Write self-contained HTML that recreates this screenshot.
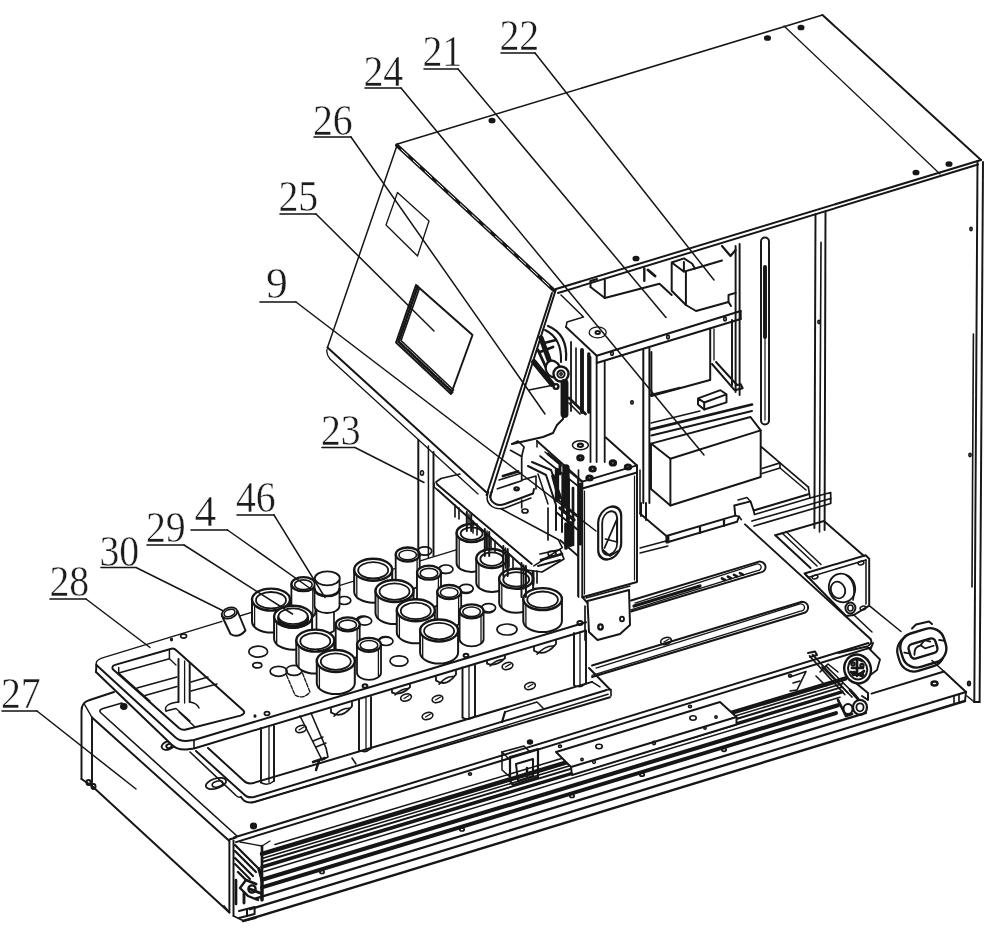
<!DOCTYPE html>
<html lang="en"><head><meta charset="utf-8"><title>Figure</title>
<style>html,body{margin:0;padding:0;background:#fff}body{width:1000px;height:937px;overflow:hidden}svg{display:block}</style></head>
<body>
<svg width="1000" height="937" viewBox="0 0 1000 937">
<defs><filter id="soft" x="0" y="0" width="1000" height="937" filterUnits="userSpaceOnUse"><feGaussianBlur stdDeviation="0.45"/></filter></defs>
<g filter="url(#soft)">
<g fill="none" stroke="#141414" stroke-width="1.95" stroke-linecap="round" stroke-linejoin="round">
<path d="M397.5 144L822.5 15" stroke-width="1.5"/>
<path d="M822.5 15L981 160"/>
<path d="M556 289L981 160"/>
<path d="M558 293L978 164.5"/>
<path d="M784 26L940 174" stroke-width="1.3"/>
<ellipse cx="767.5" cy="38" rx="2.2" ry="1.5" stroke-width="2.7" fill="#1c1c1c"/>
<ellipse cx="801" cy="27.5" rx="2.2" ry="1.5" stroke-width="2.7" fill="#1c1c1c"/>
<ellipse cx="949" cy="164" rx="2.2" ry="1.5" stroke-width="2.7" fill="#1c1c1c"/>
<ellipse cx="916" cy="172.5" rx="2.2" ry="1.5" stroke-width="2.7" fill="#1c1c1c"/>
<ellipse cx="492" cy="120.5" rx="2.2" ry="1.5" stroke-width="2.7" fill="#1c1c1c"/>
<ellipse cx="636" cy="258.5" rx="2.2" ry="1.5" stroke-width="2.7" fill="#1c1c1c"/>
<path d="M396.9 145.3L554.2 290.6" stroke-width="3.7"/>
<path d="M401.5 149.6L554.2 290.6" stroke="#fff" stroke-width="1" stroke-dasharray="9 7"/>
<path d="M397.5 144L327.5 347.5" stroke-width="1.5"/>
<path d="M556 289L490 497"/>
<path d="M552 293L486.5 495"/>
<path d="M327.5 347.5L486 492"/>
<path d="M327 349.5Q326 354 330 359L478 494" stroke-width="1.3"/>
<path d="M397.5 192.5L386 225L417.5 256L429 221Z" stroke-width="1.3"/>
<path d="M416 285L472.5 335L451 394L396 342.5Z"/>
<path d="M419.5 288L401 340.5L453.5 390" stroke-width="1.7"/>
<path d="M417.7 286.5L398.5 341.5L452.2 392" stroke-width="2.7" stroke-dasharray="1.8 1.4"/>
<path d="M977.5 161L974.3 702"/>
<path d="M983 162L979.6 702"/>
<path d="M973.4 334L972 587" stroke-width="1.6"/>
<path d="M974.3 702L979.6 702"/>
<path d="M967 696L974.3 702" stroke-width="1.6"/>
<path d="M815.5 214.1L814.4 528"/>
<path d="M821 242.4L819.5 532" stroke-width="1.6"/>
<path d="M825.5 211.1L824.6 530"/>
<rect x="761" y="237.5" width="8" height="187" rx="4" ry="4"/>
<path d="M765 267L765 337" stroke-width="3.9"/>
<path d="M765 337L765 420" stroke-width="1.2"/>
<ellipse cx="971" cy="229" rx="1.1" ry="1.6" stroke-width="1.6"/>
<ellipse cx="970" cy="455" rx="1.1" ry="1.6" stroke-width="1.6"/>
<ellipse cx="819" cy="322" rx="1.1" ry="1.6" stroke-width="1.6"/>
<path d="M566 327L596.7 355.8L740.7 311"/>
<path d="M596.7 355.8L596.7 363L740.7 319"/>
<path d="M740.7 311L740.7 319"/>
<path d="M566 327L567 322L583.5 317L561 295" stroke-width="1.5"/>
<ellipse cx="597.7" cy="332.4" rx="8.5" ry="5.5" stroke-width="1.3"/>
<ellipse cx="597.7" cy="332.4" rx="2.2" ry="1.5" stroke-width="2"/>
<ellipse cx="612" cy="353.5" rx="1.3" ry="1.8" stroke-width="1.7"/>
<ellipse cx="668" cy="337" rx="1.3" ry="1.8" stroke-width="1.7"/>
<ellipse cx="725" cy="319" rx="1.3" ry="1.8" stroke-width="1.7"/>
<path d="M590.5 287L604.8 298L659.5 283.7L671.7 295"/>
<path d="M604.8 279.7L604.8 298"/>
<path d="M590.5 281L590.5 287"/>
<path d="M590.5 281L597 279"/>
<path d="M644.3 268.5L644.3 280.7" stroke-width="2.4"/>
<path d="M648 270L655 276" stroke-width="2.9"/>
<path d="M671.7 262.5L683.9 258.4L692 263.5L695 268.5L683.9 271.6L671.7 262.5"/>
<path d="M683.9 271.6L683.9 262"/>
<path d="M671.7 263.5L671.7 290.8L685.9 305L696 311L728.5 302L728.5 295L735.6 292.9"/>
<path d="M685.9 271.6L685.9 305"/>
<path d="M695 268.5L722 260.5"/>
<path d="M722 246L730.5 256L735.6 250" stroke-width="2.2"/>
<path d="M728.5 302L731 306" stroke-width="2"/>
<path d="M735.6 246L735.6 392"/>
<path d="M739.6 244L739.6 395"/>
<path d="M732 320L732 385"/>
<path d="M643.3 349.7L643.3 503"/>
<path d="M649.4 348L649.4 503"/>
<path d="M651.4 352L651.4 396"/>
<path d="M710.2 329L710.2 380"/>
<path d="M651.4 396L710 380"/>
<path d="M714 329L714 360" stroke-width="1.3"/>
<path d="M712 364L734.6 390.2L742.7 388.2L740.7 384.1L737 385"/>
<path d="M716 362L737 385"/>
<path d="M698 398.4L720.4 390.2L726.5 394.3L726.5 402.4L704.2 409.5L698 404.4L698 398.4L704.2 402.5L726.5 394.3"/>
<path d="M704.2 402.5L704.2 409.5"/>
<path d="M571 342L571 411" stroke-width="1.8"/>
<path d="M582 350L582 412" stroke-width="3.9"/>
<path d="M588.8 354L588.8 412" stroke-width="3.4"/>
<path d="M590.5 357L590.5 462" stroke-width="1.8"/>
<path d="M596.6 363L596.6 462" stroke-width="1.8"/>
<path d="M604.7 361L604.7 462" stroke-width="1.8"/>
<path d="M576 348L576 404" stroke-width="1.6"/>
<path d="M569 398L585.5 414" stroke-width="2.7"/>
<path d="M569 403L580 414" stroke-width="1.7"/>
<ellipse cx="632" cy="402.4" rx="1.2" ry="1.6" stroke-width="1.7"/>
<path d="M548 326Q568 334 566 360" stroke-width="2.2"/>
<path d="M545 330Q562 338 561 362" stroke-width="2"/>
<path d="M541 338L552 368" stroke-width="5.1"/>
<path d="M534 362L552 384" stroke-width="5.5"/>
<path d="M538 350L548 372" stroke-width="2.9"/>
<path d="M544 343L556 340" stroke-width="2.4"/>
<path d="M540 352L553 347" stroke-width="2.7"/>
<ellipse cx="553" cy="369" rx="7" ry="8.5" stroke-width="2.2" fill="#fff" transform="rotate(-25 553 369)"/>
<ellipse cx="561" cy="374" rx="7.5" ry="7.5" stroke-width="2.4" fill="#fff"/>
<ellipse cx="561" cy="374" rx="3.6" ry="3.6" stroke-width="2"/>
<ellipse cx="561" cy="374" rx="1.2" ry="1.2" stroke-width="1.5"/>
<path d="M564.5 383L564.5 414" stroke-width="7.9"/>
<ellipse cx="556" cy="386.5" rx="2.4" ry="2.4" stroke-width="2.4"/>
<path d="M529 390L554 385" stroke-width="1.5"/>
<path d="M563 389L563 419L557 425L553 433L543 437L512 444"/>
<path d="M650.4 395L680 387.8"/>
<path d="M650.4 429.4L752 404.5" stroke-width="2.7"/>
<path d="M651.4 435.5L752 411"/>
<path d="M651 423L700 411" stroke-width="1.3"/>
<path d="M651 443.6L670.4 458.8L760.7 430.4L750.5 417L651 443.6"/>
<path d="M651 443.6L651 489L670.4 505.5L760.7 477L760.7 430.4"/>
<path d="M670.4 458.8L670.4 505.5"/>
<path d="M640 513.6L666.4 536L735.3 515.6L734.3 505.5L750.5 501.4L753.6 510.5L808.4 494.3"/>
<path d="M666.4 536L666.4 542.5L737 521.8L739 516.5"/>
<path d="M735.3 515.6L739 516.5L741.4 519.7" stroke-width="1.6"/>
<path d="M753.6 510.5L754.5 514.5L810 498L808.4 487.2" stroke-width="1.7"/>
<path d="M738 500L747 497.5L750.5 501.4" stroke-width="1.5"/>
<path d="M700 527.5L700 533" stroke-width="2.2"/>
<path d="M724 520.3L724 525.8" stroke-width="2.2"/>
<path d="M668 537L668 542" stroke-width="2.9"/>
<path d="M761.5 447L780 462.9L762 468.5" stroke-width="1.7"/>
<path d="M780 462.9L808.4 487.2" stroke-width="1.7"/>
<path d="M780 462.9L780 468L762 473.5" stroke-width="1.6"/>
<path d="M780 468L806 490" stroke-width="1.5"/>
<path d="M752 521L830.7 498.5L830.7 503.5L754 526" stroke-width="1.8"/>
<path d="M810 498L830.7 492.5L830.7 498.5" stroke-width="1.7"/>
<path d="M640 513.6L640 470" stroke-width="1.5"/>
<path d="M641 503L641 516"/>
<path d="M646 503L646 520"/>
<path d="M640 548L666 541" stroke-width="1.3"/>
<path d="M640 553L668 546" stroke-width="1.3"/>
<path d="M582.3 481.6L637 465.4L637 582L582.3 597.2Z"/>
<path d="M582.3 488.5L637 472.5"/>
<path d="M537 441L582.3 481.6"/>
<path d="M605.8 437.5L637 465.4"/>
<path d="M537 441L537 447" stroke-width="1.5"/>
<path d="M578 478L578 596" stroke-width="1.5"/>
<path d="M584.5 491L584.5 594" stroke-width="1.2"/>
<path d="M634.5 476L634.5 580" stroke-width="1.2"/>
<rect x="598.2" y="507" width="23" height="52" rx="11.5" ry="12.5" transform="skewY(-16.5) translate(0,180.6)" stroke-width="2.2"/>
<rect x="602.2" y="511.5" width="15" height="43" rx="7.5" ry="9" transform="skewY(-16.5) translate(0,180.6)" stroke-width="1.8"/>
<path d="M604.5 548L617 519L617 542L605.5 539" stroke-width="1.8"/>
<path d="M603 550L610 556L618 551" stroke-width="1.7"/>
<ellipse cx="580.4" cy="445.2" rx="8" ry="4.5" stroke-width="1.5"/>
<ellipse cx="580.4" cy="445.2" rx="2.5" ry="1.6" stroke-width="2.2"/>
<ellipse cx="580.4" cy="457.8" rx="2.6" ry="2" stroke-width="3.2"/>
<ellipse cx="592.6" cy="469" rx="2.6" ry="2" stroke-width="3.2"/>
<ellipse cx="612.9" cy="462.9" rx="2.6" ry="2" stroke-width="3.2"/>
<ellipse cx="628" cy="467" rx="2.6" ry="2" stroke-width="3.2"/>
<ellipse cx="589.5" cy="478" rx="2.6" ry="2" stroke-width="3.2"/>
<path d="M587.5 601L629 590L630 625L620 634L597.5 640L589 632L587.5 601" fill="#fff"/>
<path d="M582.3 597.2L587.5 603"/>
<path d="M586 598L630 586" stroke-width="1.3"/>
<ellipse cx="600.5" cy="627" rx="2.2" ry="2.6" stroke-width="2.4"/>
<ellipse cx="622" cy="619" rx="2" ry="2.4" stroke-width="1.8"/>
<path d="M870.5 639L745 524.4"/>
<path d="M870.5 639Q873 643 868.5 645.5"/>
<path d="M873 643L870.5 649"/>
<path d="M631 600.5L759 561.6A6.1 5.5 0 0 1 760 572.6L631 611.5"/>
<path d="M635 603.1L757 563.8A3.8 3.3 0 0 1 757.5 570.6L631 609.9" stroke-width="1.3"/>
<path d="M592 665.5L802 601.7A6.3 5.8 0 0 1 803 613.2L592 677"/>
<path d="M596 668.1L800 603.9A4 3.4 0 0 1 800.5 611.2L592 675.4" stroke-width="1.3"/>
<path d="M634 606L700 586" stroke-width="3.2"/>
<path d="M722 578.5L725 580" stroke-width="2.7"/>
<path d="M728 576.7L731 578.2" stroke-width="2.7"/>
<path d="M734 574.9L737 576.4" stroke-width="2.7"/>
<path d="M740 573.1L743 574.6" stroke-width="2.7"/>
<path d="M775.3 535.2L810.5 568"/>
<path d="M782 533L817 566" stroke-width="1.5"/>
<path d="M786 531.5L821 564.5" stroke-width="1.5"/>
<path d="M775.3 535.2L824 521L864 556"/>
<path d="M804.6 573.5L865.6 555.2L869.2 558.7L869.2 605.6L853.9 615L846 616L804.6 573.5"/>
<path d="M804.6 573.5L808 577.5L866 560" stroke-width="1.5"/>
<path d="M866 560L866 604" stroke-width="1.5"/>
<ellipse cx="842" cy="588" rx="13" ry="14.5" stroke-width="1.8" transform="rotate(-20 842 588)"/>
<ellipse cx="838" cy="590" rx="7" ry="8.5" stroke-width="1.8" transform="rotate(-20 838 590)"/>
<path d="M846 575Q857 582 853 600" stroke-width="1.6"/>
<ellipse cx="850.4" cy="608" rx="5" ry="5.5"/>
<ellipse cx="850.4" cy="608" rx="2.6" ry="3" stroke-width="1.6"/>
<ellipse cx="815" cy="577" rx="3" ry="1.8" stroke-width="1.5" transform="rotate(-17 815 577)"/>
<ellipse cx="861" cy="563" rx="3" ry="1.8" stroke-width="1.5" transform="rotate(-17 861 563)"/>
<ellipse cx="863" cy="608" rx="3" ry="1.8" stroke-width="1.5" transform="rotate(-17 863 608)"/>
<path d="M869.2 605.6L901 631.5" stroke-width="1.5"/>
<path d="M853.9 615L872 632" stroke-width="1.5"/>
<g transform="rotate(-17 923 648.5)"><rect x="897" y="632.5" width="46" height="36" rx="15" ry="15" stroke-width="2.2" fill="#fff"/><rect x="901" y="630.5" width="45" height="35" rx="14.5" ry="14.5" stroke-width="2.4" fill="#fff"/><rect x="909" y="641" width="28" height="15" rx="4.5" ry="4.5" stroke-width="2.4"/><path d="M913 652q2-8 9-7l3 4h9M921 645l6-4 5 3" stroke-width="1.8"/><path d="M904 647l4 2M941 645l4 2" stroke-width="2"/></g>
<path d="M912 628.5L916 624.5L929 621.5L932 624" stroke-width="2"/>
<path d="M838.5 653L867 646.5L880 659.5L877 670L869 676" stroke-width="1.8"/>
<ellipse cx="857.6" cy="669" rx="13.2" ry="14.6" stroke-width="2.4" fill="#fff" transform="rotate(-20 857.6 669)"/>
<ellipse cx="857.6" cy="669" rx="9.5" ry="10.5" stroke-width="2" transform="rotate(-20 857.6 669)"/>
<path d="M850 662q6-6 12-1M851 672q7 6 13-1M857 661v15M852 668h11" stroke-width="2.7"/>
<ellipse cx="853" cy="664" rx="1.6" ry="1.6" stroke-width="2.2"/>
<ellipse cx="862" cy="665.5" rx="1.6" ry="1.6" stroke-width="2.2"/>
<ellipse cx="854" cy="673.5" rx="1.6" ry="1.6" stroke-width="2.2"/>
<ellipse cx="861.5" cy="674.5" rx="1.6" ry="1.6" stroke-width="2.2"/>
<path d="M809.6 656L844.8 694.5" stroke-width="1.8"/>
<path d="M812.6 654.6L848 693" stroke-width="1.8"/>
<path d="M822 667L852 697" stroke-width="1.7"/>
<path d="M826 666L856 695.5" stroke-width="1.7"/>
<path d="M808 653L815 651.5L817 655L810 657" stroke-width="2"/>
<ellipse cx="860" cy="707.3" rx="7" ry="7.5" stroke-width="2.2" fill="#fff"/>
<ellipse cx="860" cy="707.3" rx="3.6" ry="4" stroke-width="1.8"/>
<ellipse cx="848" cy="709" rx="4.5" ry="5" stroke-width="2"/>
<path d="M857 684L868 693L868 700L862 696" stroke-width="2"/>
<path d="M850 690L858 699" stroke-width="2.9"/>
<path d="M838 700L846 716L852 714" stroke-width="2.7"/>
<path d="M820 672L828 664L838 672" stroke-width="1.6"/>
<path d="M816 676L826 686" stroke-width="1.6"/>
<path d="M871.5 693.6L944 671.5L966 692L965 701"/>
<path d="M944 671.5L932 660.5" stroke-width="1.6"/>
<path d="M954 696L954 704.5" stroke-width="1.6"/>
<path d="M959 694.5L959 703" stroke-width="1.6"/>
<ellipse cx="934.5" cy="683.5" rx="3" ry="2" stroke-width="2.4"/>
<ellipse cx="969" cy="683.5" rx="1.2" ry="2" stroke-width="2"/>
<path d="M229.4 841.5L229.4 912.5"/>
<path d="M233.5 840.5L233.5 916"/>
<path d="M234 837.5L868.5 643"/>
<path d="M236 842.1L870.5 647.6"/>
<path d="M262 853.9L845 678.7" stroke-width="4.4"/>
<path d="M262 858.4L843 683.5" stroke-width="1.6"/>
<path d="M262 862L842 687.1" stroke-width="2"/>
<path d="M262 867L842 691.9" stroke-width="3.4"/>
<path d="M264 871.5L840 697.2" stroke-width="1.5"/>
<path d="M262 879.8L838 705.3" stroke-width="4.1"/>
<path d="M262 887.4L836 713.1" stroke-width="3.9"/>
<path d="M256 898.3L866 712.9" stroke-width="2.3"/>
<path d="M250 909.2L966 692" stroke-width="2.3"/>
<path d="M243 921L965 701" stroke-width="2.4"/>
<path d="M275 844.5L700 717" stroke-width="1.5"/>
<path d="M235 845L259 869" stroke-width="2.2"/>
<path d="M235 851L256 872" stroke-width="2.2"/>
<path d="M235 858L253 876" stroke-width="2.2"/>
<path d="M235 864L250 879" stroke-width="2"/>
<path d="M240 842L262 846L270 841" stroke-width="1.3"/>
<path d="M259 869L262 880L262 900" stroke-width="3.2"/>
<path d="M238 872L246 880L240 888L248 896L258 900" stroke-width="2.4"/>
<path d="M246 880L256 884" stroke-width="2.9"/>
<path d="M250 889L260 893" stroke-width="2.9"/>
<path d="M244 893L244 903" stroke-width="2.9"/>
<path d="M236 880L236 904" stroke-width="2.7"/>
<ellipse cx="252" cy="889" rx="3.6" ry="3.6" stroke-width="2.4"/>
<path d="M233.5 916L244 921L256 918" stroke-width="1.7"/>
<path d="M239 911L254.6 907L254.6 914L239 918" stroke-width="2"/>
<path d="M247 909L247 916" stroke-width="2"/>
<path d="M262 846L262 900" stroke-width="2.7"/>
<path d="M224 906L229 912" stroke-width="1.7"/>
<ellipse cx="322" cy="872" rx="2.2" ry="1.5" stroke-width="1.7"/>
<ellipse cx="462" cy="829.5" rx="2.2" ry="1.5" stroke-width="1.7"/>
<ellipse cx="572" cy="796" rx="2.2" ry="1.5" stroke-width="1.7"/>
<ellipse cx="642" cy="774.7" rx="2.2" ry="1.5" stroke-width="1.7"/>
<ellipse cx="724" cy="749.8" rx="2.2" ry="1.5" stroke-width="1.7"/>
<ellipse cx="470" cy="773.9" rx="1.5" ry="1.2" stroke-width="1.6"/>
<ellipse cx="560" cy="746.3" rx="1.5" ry="1.2" stroke-width="1.6"/>
<ellipse cx="690" cy="706.4" rx="1.5" ry="1.2" stroke-width="1.6"/>
<ellipse cx="790" cy="675.8" rx="1.5" ry="1.2" stroke-width="1.6"/>
<ellipse cx="253.5" cy="826" rx="2.4" ry="2.2" stroke-width="2.4" fill="#1c1c1c"/>
<path d="M556 752L720 702L736.5 717L736.5 724.5L572 775L571 767L556 752" fill="#fff"/>
<path d="M571 767L736.5 717"/>
<ellipse cx="693" cy="718" rx="3.2" ry="2.2" stroke-width="1.6"/>
<ellipse cx="716" cy="717" rx="1.2" ry="1.2" stroke-width="1.5"/>
<ellipse cx="705" cy="728" rx="1.2" ry="1.2" stroke-width="1.5"/>
<ellipse cx="599" cy="746.5" rx="3.2" ry="2.2" stroke-width="1.6"/>
<ellipse cx="582" cy="759.5" rx="1.2" ry="1.2" stroke-width="1.5"/>
<ellipse cx="594" cy="762" rx="1.4" ry="1.4" stroke-width="1.5"/>
<ellipse cx="654" cy="743" rx="1.4" ry="1.6" stroke-width="1.7"/>
<path d="M502 752L524 746L530 752" stroke-width="1.5"/>
<path d="M510 757L538 749L538 777L513 785L510 781L510 757" stroke-width="2.2"/>
<path d="M516 764L533 759L533 776L518 781L516 764" stroke-width="2"/>
<path d="M527 768L527 776" stroke-width="2.4"/>
<path d="M502 752L510 760" stroke-width="1.5"/>
<path d="M502 752L502 770L510 777" stroke-width="1.5"/>
<ellipse cx="530" cy="742" rx="2" ry="1.6" stroke-width="2.4" fill="#1c1c1c"/>
<path d="M81.5 779V711Q81.5 702.5 89 700.3L114 692"/>
<path d="M92 786V717.5"/>
<path d="M84 703.5L92 717.5" stroke-width="1.5"/>
<path d="M81.5 779L92 786"/>
<path d="M92 786L229.4 912.5"/>
<path d="M92 717.5L229.4 841"/>
<path d="M122 703L103 708.5Q98 710 101 713L237 836" stroke-width="1.6"/>
<ellipse cx="123.8" cy="706.5" rx="2.6" ry="2.2" stroke-width="2.4" fill="#1c1c1c"/>
<ellipse cx="88.5" cy="782.5" rx="2" ry="2.4" stroke-width="2"/>
<ellipse cx="93.5" cy="786.5" rx="2" ry="2.4" stroke-width="2"/>
<path d="M229.4 839.5L236 837.5"/>
<path d="M196 751L243 793.5Q247.5 798.5 254 797L606 690.2"/>
<path d="M252 802.8L608 694.3" stroke-width="1.5"/>
<path d="M241 797Q245 804 254 802L610 697.2"/>
<path d="M606 690L611 689.5L611 696" stroke-width="1.6"/>
<path d="M208 748L243.5 780.5Q247.5 784.5 253.5 783L592 681.9"/>
<path d="M190 752L236 795.5Q239 798 241 797" stroke-width="1.6"/>
<path d="M592 681.9L600 686.9" stroke-width="1.5"/>
<path d="M610 689.5L589 668"/>
<ellipse cx="216" cy="783.5" rx="10.5" ry="5" stroke-width="1.7" transform="rotate(-17 216 783.5)"/>
<ellipse cx="217.5" cy="784" rx="5.5" ry="2.8" stroke-width="1.6" transform="rotate(-17 217.5 784)"/>
<ellipse cx="168" cy="745.5" rx="6.5" ry="4" stroke-width="1.8" transform="rotate(-17 168 745.5)"/>
<ellipse cx="169" cy="746" rx="2.8" ry="2" stroke-width="2" transform="rotate(-17 169 746)"/>
<path d="M319 761L316 770" stroke-width="2.4"/>
<path d="M313 762L325 758" stroke-width="2.4"/>
<path d="M505 712L502 722" stroke-width="2.2"/>
<path d="M505 712L537 702L543 708" stroke-width="1.5"/>
<path d="M352 758L356 764" stroke-width="1.5"/>
<ellipse cx="406" cy="697.5" rx="5.5" ry="3.4" stroke-width="1.6" transform="rotate(-17 406 697.5)"/>
<path d="M404 698.5L409 695.5" stroke-width="1.2"/>
<ellipse cx="427.5" cy="716" rx="5.5" ry="3.4" stroke-width="1.6" transform="rotate(-17 427.5 716)"/>
<path d="M425.5 717L430.5 714" stroke-width="1.2"/>
<ellipse cx="301" cy="729" rx="5.5" ry="3.4" stroke-width="1.6" transform="rotate(-17 301 729)"/>
<path d="M299 730L304 727" stroke-width="1.2"/>
<ellipse cx="507.5" cy="666" rx="5.5" ry="3.4" stroke-width="1.6" transform="rotate(-17 507.5 666)"/>
<path d="M505.5 667L510.5 664" stroke-width="1.2"/>
<ellipse cx="530" cy="686" rx="5.5" ry="3.4" stroke-width="1.6" transform="rotate(-17 530 686)"/>
<path d="M528 687L533 684" stroke-width="1.2"/>
<ellipse cx="437.5" cy="699" rx="5.5" ry="3.4" stroke-width="1.6" transform="rotate(-17 437.5 699)"/>
<path d="M435.5 700L440.5 697" stroke-width="1.2"/>
<ellipse cx="666" cy="641" rx="5.5" ry="3.4" stroke-width="1.6" transform="rotate(-17 666 641)"/>
<path d="M664 642L669 639" stroke-width="1.2"/>
<path d="M96.4 665L493 544L586 622.3L586 630.5L194 748.5L186 749.5Q177 750 172 745L96 672Z" fill="#fff" stroke="none"/>
<path d="M96.4 665L175 737Q179 741 186 741L194 740L586 622.3"/>
<path d="M96 672L172 745Q177 750 186 749.5L194 748.5L586 630.5"/>
<path d="M194 740L194 748.5" stroke-width="1.6"/>
<path d="M96.4 665L96 672"/>
<path d="M96.4 665Q95 660 102.5 657.8L222 621.3" stroke-width="1.3"/>
<path d="M236 617.1L475 544.2" stroke-width="1.3"/>
<path d="M112.6 669Q111.5 665.5 116 664.6L171.4 648.7Q174 648 176.5 650.5L243.4 710.5Q246 713.5 240.4 715.6L186 729.5Q182 730.5 179 728Z"/>
<path d="M118.7 667.5L118.7 673L169.4 658.8L169.4 650.5" stroke-width="1.5"/>
<path d="M118.7 673L150 701" stroke-width="1.3"/>
<path d="M169.4 658.8L176 665" stroke-width="1.3"/>
<path d="M179 712L195 727" stroke-width="1.5"/>
<path d="M166 711L176 708.5L190 721" stroke-width="1.3"/>
<path d="M137 688L177 677" stroke-width="1.5"/>
<path d="M145 695.5L177 686.5" stroke-width="1.5"/>
<path d="M191 682L208 677" stroke-width="1.5"/>
<path d="M191 691L217 684" stroke-width="1.5"/>
<path d="M178.5 659L178.5 702"/>
<path d="M184.6 661L184.6 703" stroke-width="1.3"/>
<path d="M189.7 663L189.7 702"/>
<path d="M166 711Q163 704 178.5 702M189.7 702Q197 703 199 708" stroke-width="1.5"/>
<ellipse cx="183.6" cy="636.1" rx="3" ry="2" stroke-width="1.6"/>
<ellipse cx="171.5" cy="639.5" rx="0.8" ry="1.2" stroke-width="1.5"/>
<ellipse cx="267" cy="713.5" rx="2.6" ry="1.8" stroke-width="1.7"/>
<ellipse cx="255" cy="716" rx="0.8" ry="1.1" stroke-width="1.5"/>
<ellipse cx="365" cy="686" rx="2.4" ry="1.8" stroke-width="2"/>
<ellipse cx="466" cy="655.5" rx="2.4" ry="1.8" stroke-width="2"/>
<ellipse cx="580" cy="623" rx="2.6" ry="2" stroke-width="2"/>
<path d="M261 728L261 782.5"/>
<path d="M269 727L269 782.5" stroke-width="1.3"/>
<path d="M274 726L274 781"/>
<path d="M261 782.5Q267.5 786.5 274 781" stroke-width="1.5"/>
<path d="M359 699L359 750"/>
<path d="M366 698L366 750" stroke-width="1.3"/>
<path d="M371 697L371 748.5"/>
<path d="M359 750Q365 754 371 748.5" stroke-width="1.5"/>
<path d="M462.5 667.5L462.5 717.5"/>
<path d="M469 666.5L469 717.5" stroke-width="1.3"/>
<path d="M475 665.5L475 716"/>
<path d="M462.5 717.5Q468.8 721.5 475 716" stroke-width="1.5"/>
<path d="M574 633L574 685"/>
<path d="M580 632L580 685" stroke-width="1.3"/>
<path d="M586 631L586 683.5"/>
<path d="M574 685Q580 689 586 683.5" stroke-width="1.5"/>
<ellipse cx="258.2" cy="651.7" rx="9.4" ry="5.5" stroke-width="1.7"/>
<ellipse cx="257.3" cy="665.3" rx="4.5" ry="2.6" stroke-width="1.7"/>
<ellipse cx="278.6" cy="671.3" rx="8.5" ry="5" stroke-width="1.7"/>
<ellipse cx="294" cy="670.4" rx="8" ry="5" stroke-width="1.7"/>
<ellipse cx="344.3" cy="600.5" rx="6.5" ry="4" stroke-width="1.7"/>
<ellipse cx="363" cy="620" rx="6.5" ry="4" stroke-width="1.7"/>
<ellipse cx="385.3" cy="640.6" rx="6.5" ry="4" stroke-width="1.7"/>
<ellipse cx="399" cy="661" rx="9" ry="5.2" stroke-width="1.7"/>
<ellipse cx="507" cy="629.5" rx="10" ry="5.5" stroke-width="1.7"/>
<ellipse cx="445" cy="569.5" rx="6.5" ry="4" stroke-width="1.7"/>
<ellipse cx="466" cy="589.5" rx="6.5" ry="4" stroke-width="1.7"/>
<ellipse cx="488" cy="609" rx="6.5" ry="4" stroke-width="1.7"/>
<path d="M222 616L230.5 634Q238 639 245.5 630.5L237.5 611" fill="#fff"/>
<ellipse cx="229.5" cy="613" rx="8" ry="5.3" stroke-width="1.8" transform="rotate(-20 229.5 613)"/>
<ellipse cx="229.5" cy="613" rx="5.6" ry="3.4" stroke-width="1.6" transform="rotate(-20 229.5 613)"/>
<path d="M286.5 675L295 695Q303 700 310 692L302 672" stroke-width="1.3" stroke-dasharray="4 1.5"/>
<path d="M300 716L318 752L322 760L328 757L326 748L311 713" stroke-width="1.6"/>
<path d="M313 741L323 737" stroke-width="1.5"/>
<path d="M316 747L326 743" stroke-width="1.5"/>
<path d="M456.6 533L456.6 563A15 9 0 0 0 486.6 563L486.6 533" fill="#fff" stroke-width="2"/>
<path d="M459.2 537L459.2 568" stroke-width="1.3"/>
<ellipse cx="471.6" cy="533" rx="15" ry="9" stroke-width="2.4" fill="#fff"/>
<ellipse cx="471.6" cy="533.6" rx="11" ry="6.2" stroke-width="1.8"/>
<ellipse cx="424.7" cy="551" rx="7" ry="4.2" stroke-width="1.7" fill="#fff"/>
<path d="M395.7 554.5L395.7 582.5A12 7 0 0 0 419.7 582.5L419.7 554.5" fill="#fff" stroke-width="1.8"/>
<path d="M417.1 558.5L417.1 585.5" stroke-width="1.3"/>
<ellipse cx="407.7" cy="554.5" rx="12" ry="7" stroke-width="2.3" fill="#fff"/>
<ellipse cx="407.7" cy="555" rx="8.8" ry="4.8" stroke-width="1.6"/>
<path d="M476.3 558.5L476.3 582.5A15.5 9.5 0 0 0 507.3 582.5L507.3 558.5" fill="#fff" stroke-width="2"/>
<path d="M478.9 562.5L478.9 587.5" stroke-width="1.3"/>
<ellipse cx="491.8" cy="558.5" rx="15.5" ry="9.5" stroke-width="2.4" fill="#fff"/>
<ellipse cx="491.8" cy="559.1" rx="11.5" ry="6.7" stroke-width="1.8"/>
<path d="M354.2 569.7L354.2 591.7A19 11 0 0 0 392.2 591.7L392.2 569.7" fill="#fff" stroke-width="2"/>
<path d="M356.8 573.7L356.8 596.7" stroke-width="1.3"/>
<ellipse cx="373.2" cy="569.7" rx="19" ry="11" stroke-width="2.4" fill="#fff"/>
<ellipse cx="373.2" cy="570.3" rx="15" ry="8.2" stroke-width="1.8"/>
<ellipse cx="446" cy="569.2" rx="7" ry="4.2" stroke-width="1.7" fill="#fff"/>
<path d="M417 572.7L417 600.7A12 7 0 0 0 441 600.7L441 572.7" fill="#fff" stroke-width="1.8"/>
<path d="M438.4 576.7L438.4 603.7" stroke-width="1.3"/>
<ellipse cx="429" cy="572.7" rx="12" ry="7" stroke-width="2.3" fill="#fff"/>
<ellipse cx="429" cy="573.2" rx="8.8" ry="4.8" stroke-width="1.6"/>
<path d="M499.2 578.8L499.2 602.8A17 10 0 0 0 533.2 602.8L533.2 578.8" fill="#fff" stroke-width="2"/>
<path d="M501.8 582.8L501.8 607.8" stroke-width="1.3"/>
<ellipse cx="516.2" cy="578.8" rx="17" ry="10" stroke-width="2.4" fill="#fff"/>
<ellipse cx="516.2" cy="579.4" rx="13" ry="7.2" stroke-width="1.8"/>
<path d="M291.4 584.2L291.4 612.2A12 7 0 0 0 315.4 612.2L315.4 584.2" fill="#fff" stroke-width="1.8"/>
<path d="M312.8 588.2L312.8 615.2" stroke-width="1.3"/>
<ellipse cx="303.4" cy="584.2" rx="12" ry="7" stroke-width="2.3" fill="#fff"/>
<ellipse cx="303.4" cy="584.7" rx="8.8" ry="4.8" stroke-width="1.6"/>
<path d="M316.5 606L316.5 632Q324 637 334 631L334 606" fill="#fff" stroke-width="1.7"/>
<path d="M314.5 580L314.5 606A12.5 7 0 0 0 339.5 606L339.5 580" fill="#fff" stroke-width="1.8"/>
<path d="M314.5 589A12.5 7 0 0 0 339.5 589" stroke-width="2.7"/>
<ellipse cx="327.3" cy="578.3" rx="12.5" ry="7" stroke-width="1.8" fill="#fff"/>
<path d="M375.5 591L375.5 613A19 11 0 0 0 413.5 613L413.5 591" fill="#fff" stroke-width="2"/>
<path d="M378.1 595L378.1 618" stroke-width="1.3"/>
<ellipse cx="394.5" cy="591" rx="19" ry="11" stroke-width="2.4" fill="#fff"/>
<ellipse cx="394.5" cy="591.6" rx="15" ry="8.2" stroke-width="1.8"/>
<ellipse cx="466.2" cy="588.5" rx="7" ry="4.2" stroke-width="1.7" fill="#fff"/>
<path d="M437.2 592L437.2 620A12 7 0 0 0 461.2 620L461.2 592" fill="#fff" stroke-width="1.8"/>
<path d="M458.6 596L458.6 623" stroke-width="1.3"/>
<ellipse cx="449.2" cy="592" rx="12" ry="7" stroke-width="2.3" fill="#fff"/>
<ellipse cx="449.2" cy="592.5" rx="8.8" ry="4.8" stroke-width="1.6"/>
<path d="M523.3 599.1L523.3 621.1A19.3 11 0 0 0 561.9 621.1L561.9 599.1" fill="#fff" stroke-width="2"/>
<path d="M525.9 603.1L525.9 626.1" stroke-width="1.3"/>
<ellipse cx="542.6" cy="599.1" rx="19.3" ry="11" stroke-width="2.4" fill="#fff"/>
<ellipse cx="542.6" cy="599.7" rx="15.3" ry="8.2" stroke-width="1.8"/>
<path d="M252 599.6L252 621.6A19 11 0 0 0 290 621.6L290 599.6" fill="#fff" stroke-width="2"/>
<path d="M254.6 603.6L254.6 626.6" stroke-width="1.3"/>
<ellipse cx="271" cy="599.6" rx="19" ry="11" stroke-width="2.4" fill="#fff"/>
<ellipse cx="271" cy="600.2" rx="15" ry="8.2" stroke-width="1.8"/>
<path d="M396.8 610.3L396.8 632.3A19 11 0 0 0 434.8 632.3L434.8 610.3" fill="#fff" stroke-width="2"/>
<path d="M399.4 614.3L399.4 637.3" stroke-width="1.3"/>
<ellipse cx="415.8" cy="610.3" rx="19" ry="11" stroke-width="2.4" fill="#fff"/>
<ellipse cx="415.8" cy="610.9" rx="15" ry="8.2" stroke-width="1.8"/>
<ellipse cx="488.6" cy="607.8" rx="7" ry="4.2" stroke-width="1.7" fill="#fff"/>
<path d="M459.6 611.3L459.6 639.3A12 7 0 0 0 483.6 639.3L483.6 611.3" fill="#fff" stroke-width="1.8"/>
<path d="M481 615.3L481 642.3" stroke-width="1.3"/>
<ellipse cx="471.6" cy="611.3" rx="12" ry="7" stroke-width="2.3" fill="#fff"/>
<ellipse cx="471.6" cy="611.8" rx="8.8" ry="4.8" stroke-width="1.6"/>
<path d="M274.1 616.7L274.1 638.7A19 11 0 0 0 312.1 638.7L312.1 616.7" fill="#fff" stroke-width="2"/>
<path d="M276.7 620.7L276.7 643.7" stroke-width="1.3"/>
<ellipse cx="293.1" cy="616.7" rx="19" ry="11" stroke-width="2.4" fill="#fff"/>
<ellipse cx="293.1" cy="617.3" rx="15" ry="8.2" stroke-width="1.8"/>
<ellipse cx="293.1" cy="619.7" rx="14.5" ry="7.8" stroke-width="2.9"/>
<ellipse cx="293.1" cy="616.2" rx="14.5" ry="7.8" stroke-width="1.6" fill="#fff"/>
<ellipse cx="364.7" cy="620.9" rx="7" ry="4.2" stroke-width="1.7" fill="#fff"/>
<path d="M335.7 624.4L335.7 652.4A12 7 0 0 0 359.7 652.4L359.7 624.4" fill="#fff" stroke-width="1.8"/>
<path d="M357.1 628.4L357.1 655.4" stroke-width="1.3"/>
<ellipse cx="347.7" cy="624.4" rx="12" ry="7" stroke-width="2.3" fill="#fff"/>
<ellipse cx="347.7" cy="624.9" rx="8.8" ry="4.8" stroke-width="1.6"/>
<path d="M420.1 630.5L420.1 652.5A19 11 0 0 0 458.1 652.5L458.1 630.5" fill="#fff" stroke-width="2"/>
<path d="M422.7 634.5L422.7 657.5" stroke-width="1.3"/>
<ellipse cx="439.1" cy="630.5" rx="19" ry="11" stroke-width="2.4" fill="#fff"/>
<ellipse cx="439.1" cy="631.1" rx="15" ry="8.2" stroke-width="1.8"/>
<path d="M296.3 640.6L296.3 662.6A19 11 0 0 0 334.3 662.6L334.3 640.6" fill="#fff" stroke-width="2"/>
<path d="M298.9 644.6L298.9 667.6" stroke-width="1.3"/>
<ellipse cx="315.3" cy="640.6" rx="19" ry="11" stroke-width="2.4" fill="#fff"/>
<ellipse cx="315.3" cy="641.2" rx="15" ry="8.2" stroke-width="1.8"/>
<ellipse cx="386" cy="641.3" rx="7" ry="4.2" stroke-width="1.7" fill="#fff"/>
<path d="M357 644.8L357 672.8A12 7 0 0 0 381 672.8L381 644.8" fill="#fff" stroke-width="1.8"/>
<path d="M378.4 648.8L378.4 675.8" stroke-width="1.3"/>
<ellipse cx="369" cy="644.8" rx="12" ry="7" stroke-width="2.3" fill="#fff"/>
<ellipse cx="369" cy="645.3" rx="8.8" ry="4.8" stroke-width="1.6"/>
<path d="M316.8 661L316.8 683A19 11 0 0 0 354.8 683L354.8 661" fill="#fff" stroke-width="2"/>
<path d="M319.4 665L319.4 688" stroke-width="1.3"/>
<ellipse cx="335.8" cy="661" rx="19" ry="11" stroke-width="2.4" fill="#fff"/>
<ellipse cx="335.8" cy="661.6" rx="15" ry="8.2" stroke-width="1.8"/>
<path d="M418.3 440L418.3 556"/>
<path d="M428.4 446L428.4 558" stroke-width="1.5"/>
<path d="M433.5 452L433.5 556"/>
<ellipse cx="422" cy="473" rx="1.5" ry="2.2" stroke-width="1.6"/>
<path d="M437.5 485L489 501L558.2 539.5L562.3 547.6L533.9 567L526.8 571L437.5 490Z" fill="#fff" stroke="none"/>
<path d="M466.8 512L466.8 531" stroke-width="2"/>
<path d="M471.2 515L471.2 531" stroke-width="2"/>
<path d="M469 514L469 523" stroke-width="1.5"/>
<path d="M484.8 529L484.8 556" stroke-width="2"/>
<path d="M489.2 532L489.2 556" stroke-width="2"/>
<path d="M487 531L487 548" stroke-width="1.5"/>
<path d="M503.3 546L503.3 576" stroke-width="2"/>
<path d="M507.7 549L507.7 576" stroke-width="2"/>
<path d="M505.5 548L505.5 568" stroke-width="1.5"/>
<path d="M521.5 563L521.5 597" stroke-width="2"/>
<path d="M525.9 566L525.9 597" stroke-width="2"/>
<path d="M523.7 565L523.7 589" stroke-width="1.5"/>
<path d="M455 505L455 517" stroke-width="1.6"/>
<path d="M459 508L459 519" stroke-width="1.6"/>
<path d="M473 521L473 533" stroke-width="1.6"/>
<path d="M477 524L477 535" stroke-width="1.6"/>
<path d="M491 538L491 550" stroke-width="1.6"/>
<path d="M495 541L495 552" stroke-width="1.6"/>
<path d="M509 555L509 567" stroke-width="1.6"/>
<path d="M513 558L513 569" stroke-width="1.6"/>
<path d="M437.5 484.8L531.8 563.9"/>
<path d="M437.5 489.8L526.8 570"/>
<path d="M437.5 484.8L436 482L441 478.5L460 474" stroke-width="1.6"/>
<path d="M437.5 489.8L434 487L434 483" stroke-width="1.6"/>
<path d="M501.4 509L558.2 539.5L562.3 547.6L533.9 565.9" stroke-width="1.6"/>
<path d="M540 554L560 549.5L564 559L542 572L526.8 570" stroke-width="1.7"/>
<path d="M541 560L562 554" stroke-width="2.7"/>
<path d="M538 566L560 560" stroke-width="2"/>
<ellipse cx="552" cy="553.5" rx="4" ry="2.4" stroke-width="1.6"/>
<path d="M533 572L533 584" stroke-width="2.9"/>
<path d="M537 571L537 583" stroke-width="1.7"/>
<path d="M492 491Q488 499 494 503Q498 506.5 505 504L533 493.5L534 489" />
<path d="M488.5 492Q484.5 501 492 506.5Q497 510 505 508L531 498" stroke-width="1.5"/>
<path d="M510.5 450.3L521.7 456.4L521.7 480.7L497.4 488.8" stroke-width="1.7"/>
<path d="M512 444L518 441L524 447L521.7 456.4" stroke-width="1.7"/>
<path d="M499 480L521.7 473" stroke-width="1.5"/>
<path d="M503 476L518 471.5" stroke-width="2.7"/>
<ellipse cx="516.6" cy="488.8" rx="2.2" ry="1.5" stroke-width="2.2"/>
<path d="M522 480L536 476L536 489" stroke-width="1.6"/>
<path d="M521.7 500L521.7 508" stroke-width="1.6"/>
<ellipse cx="525" cy="511" rx="3" ry="2" stroke-width="1.7"/>
<path d="M528 466L546 475L556 505L556 530" stroke-width="2"/>
<path d="M532 462L551 470L562 500L562 532" stroke-width="2"/>
<path d="M538 474L548 504" stroke-width="1.5"/>
<path d="M557 470L557 500" stroke-width="4.3"/>
<path d="M563 474L563 512" stroke-width="3.2"/>
<path d="M568 480L568 520" stroke-width="3.9"/>
<path d="M573 488L573 545" stroke-width="2.7"/>
<path d="M578.5 470L578.5 597" stroke-width="1.7"/>
<path d="M548 508L548 540" stroke-width="1.7"/>
<path d="M566 524L566 548" stroke-width="3.7"/>
<path d="M540 456L578 486" stroke-width="1.6"/>
<path d="M545 452L582 482" stroke-width="1.5"/>
<path d="M556 512L578 530" stroke-width="2"/>
<path d="M556 498L578 516" stroke-width="1.7"/>
<path d="M560 540L578 556" stroke-width="1.7"/>
<path d="M548 454L560 464L560 474" stroke-width="2.9"/>
<path d="M436 677v3.6Q446 687.6 456 674.5V670.9" stroke-width="1.8"/>
<path d="M439 684.2Q446 675.6 454 676.5" stroke-width="1.5"/>
<path d="M534 647.1v3.6Q545 657.4 556 644V640.4" stroke-width="1.8"/>
<path d="M537 654.3Q545 645.4 554 646" stroke-width="1.5"/>
<path d="M331 709v3.6Q341.5 719.4 352 706.2V702.6" stroke-width="1.8"/>
<path d="M334 716.2Q341.5 707.4 350 708.2" stroke-width="1.5"/>
<path d="M392 690.4v2.2Q401 696.2 410 687.2V685" stroke-width="1.8"/>
<path d="M395 694.9Q401 688.7 408 688.5" stroke-width="1.5"/>
<path d="M487 661.5v2.2Q496 667.2 505 658.2V656" stroke-width="1.8"/>
<path d="M490 666Q496 659.7 503 659.5" stroke-width="1.5"/>
<path d="M566 468L566 502" stroke-width="7.3"/>
<path d="M580.3 484L580.3 544" stroke-width="3.2"/>
<path d="M570 524L570 544" stroke-width="6.1"/>
<path d="M553 476L559 498" stroke-width="3.7"/>
<path d="M560 508L574 520" stroke-width="3.2"/>
<path d="M585 606L585 640" stroke-width="1.7"/>
<path d="M790 677L806 671.5L797 690L790 691" stroke-width="1.7"/>
<path d="M793 683L800 681" stroke-width="1.5"/>
<path d="M501 53L535 53" stroke-width="1.6"/>
<path d="M535 53L714 280" stroke-width="1.5"/>
<path d="M424 69L458 69" stroke-width="1.6"/>
<path d="M458 69L666 317.5" stroke-width="1.5"/>
<path d="M365 88L401 88" stroke-width="1.6"/>
<path d="M401 88L704 455" stroke-width="1.5"/>
<path d="M314 137L351 137" stroke-width="1.6"/>
<path d="M351 137L545 414" stroke-width="1.5"/>
<path d="M280 214L316 214" stroke-width="1.6"/>
<path d="M316 214L434 331" stroke-width="1.5"/>
<path d="M260 302L296 302" stroke-width="1.6"/>
<path d="M296 302L596 531" stroke-width="1.5"/>
<path d="M322 447.5L355 447.5" stroke-width="1.6"/>
<path d="M355 447.5L424 482.5" stroke-width="1.5"/>
<path d="M237 515L274 515" stroke-width="1.6"/>
<path d="M274 515L325 597.5" stroke-width="1.5"/>
<path d="M191 530L227.5 530" stroke-width="1.6"/>
<path d="M227.5 530L311 589" stroke-width="1.5"/>
<path d="M147 545L184 545" stroke-width="1.6"/>
<path d="M184 545L292.5 614" stroke-width="1.5"/>
<path d="M101 567.5L136 567.5" stroke-width="1.6"/>
<path d="M136 567.5L222.5 610.5" stroke-width="1.5"/>
<path d="M50 599L86 599" stroke-width="1.6"/>
<path d="M86 599L150 647.5" stroke-width="1.5"/>
<path d="M2 711L37 711" stroke-width="1.6"/>
<path d="M37 711L136 789" stroke-width="1.5"/>
</g>
<g font-family="'Liberation Serif', serif" fill="#1c1c1c" stroke="#fff" stroke-width="0.45">
<text x="499.4" y="49.5" font-size="43.5" textLength="39.8" lengthAdjust="spacingAndGlyphs">22</text>
<text x="422.4" y="66" font-size="43.5" textLength="39.8" lengthAdjust="spacingAndGlyphs">21</text>
<text x="363.4" y="85.5" font-size="43.5" textLength="39.8" lengthAdjust="spacingAndGlyphs">24</text>
<text x="312.9" y="134.5" font-size="43.5" textLength="39.8" lengthAdjust="spacingAndGlyphs">26</text>
<text x="278.4" y="210.5" font-size="43.5" textLength="39.8" lengthAdjust="spacingAndGlyphs">25</text>
<text x="265.9" y="298" font-size="43.5" textLength="21.8" lengthAdjust="spacingAndGlyphs">9</text>
<text x="320.9" y="444.5" font-size="43.5" textLength="39.8" lengthAdjust="spacingAndGlyphs">23</text>
<text x="235.9" y="511.5" font-size="43.5" textLength="39.8" lengthAdjust="spacingAndGlyphs">46</text>
<text x="194.4" y="525.5" font-size="43.5" textLength="21.8" lengthAdjust="spacingAndGlyphs">4</text>
<text x="145.9" y="541.5" font-size="43.5" textLength="39.8" lengthAdjust="spacingAndGlyphs">29</text>
<text x="99.4" y="565.5" font-size="43.5" textLength="39.8" lengthAdjust="spacingAndGlyphs">30</text>
<text x="49.4" y="595.5" font-size="43.5" textLength="39.8" lengthAdjust="spacingAndGlyphs">28</text>
<text x="0.9" y="708" font-size="43.5" textLength="39.8" lengthAdjust="spacingAndGlyphs">27</text>
</g></g></svg>
</body></html>
